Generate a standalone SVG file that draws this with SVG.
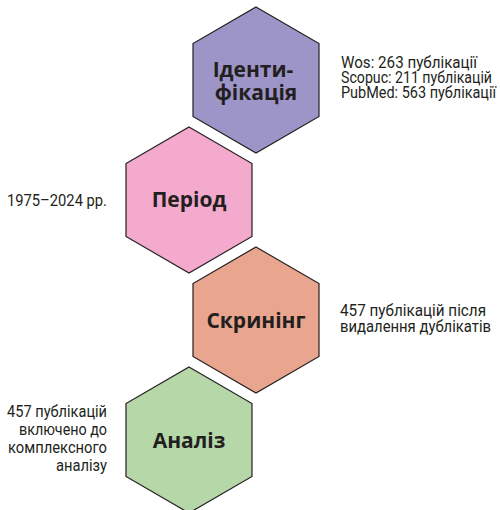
<svg xmlns="http://www.w3.org/2000/svg" width="500" height="510" viewBox="0 0 500 510">
  <style>
    .hex { stroke: #231f20; stroke-width: 1.2; stroke-linejoin: miter; }
    .lbl { font-family: "Open Sans", "DejaVu Sans", sans-serif; font-weight: 700; font-size: 21px; fill: #231f20; text-anchor: middle; }
    .note { font-family: Roboto, "Liberation Sans", sans-serif; font-size: 16px; fill: #231f20; }
    .r { text-anchor: end; }
  </style>
  <rect width="500" height="510" fill="#ffffff"/>
  <g id="connectors"/>
  <g id="node-identification">
    <polygon class="hex" fill="#9d95c8" points="256,7 319,43.5 319,116.5 256,153 193,116.5 193,43.5"/>
    <text class="lbl" x="253" y="77">Іденти-</text>
    <text class="lbl" x="256" y="100">фікація</text>
  </g>
  <g id="node-period">
    <polygon class="hex" fill="#f3aacc" points="189,127 252,163.5 252,236.5 189,273 126,236.5 126,163.5"/>
    <text class="lbl" x="189" y="207">Період</text>
  </g>
  <g id="node-screening">
    <polygon class="hex" fill="#e9a58d" points="256,247 319,283.5 319,356.5 256,393 193,356.5 193,283.5"/>
    <text class="lbl" x="256" y="328">Скринінг</text>
  </g>
  <g id="node-analysis">
    <polygon class="hex" fill="#b6d7a8" points="189,367 252,403.5 252,476.5 189,513 126,476.5 126,403.5"/>
    <text class="lbl" x="189" y="448">Аналіз</text>
  </g>
  <g id="notes">
    <text class="note" x="341" y="68" textLength="136" lengthAdjust="spacingAndGlyphs">Wos: 263 публікації</text>
    <text class="note" x="341" y="83" textLength="151" lengthAdjust="spacingAndGlyphs">Scopuc: 211 публікацій</text>
    <text class="note" x="341" y="98" textLength="155" lengthAdjust="spacingAndGlyphs">PubMed: 563 публікації</text>
    <text class="note" x="7" y="206" textLength="100" lengthAdjust="spacingAndGlyphs">1975–2024 pp.</text>
    <text class="note" x="340" y="316" textLength="146" lengthAdjust="spacingAndGlyphs">457 публікацій після</text>
    <text class="note" x="340" y="332" textLength="151" lengthAdjust="spacingAndGlyphs">видалення дублікатів</text>
    <text class="note r" x="107" y="417" textLength="100" lengthAdjust="spacingAndGlyphs">457 публікацій</text>
    <text class="note r" x="107" y="435" textLength="88" lengthAdjust="spacingAndGlyphs">включено до</text>
    <text class="note r" x="107" y="453" textLength="99" lengthAdjust="spacingAndGlyphs">комплексного</text>
    <text class="note r" x="107" y="471" textLength="51" lengthAdjust="spacingAndGlyphs">аналізу</text>
  </g>
</svg>
